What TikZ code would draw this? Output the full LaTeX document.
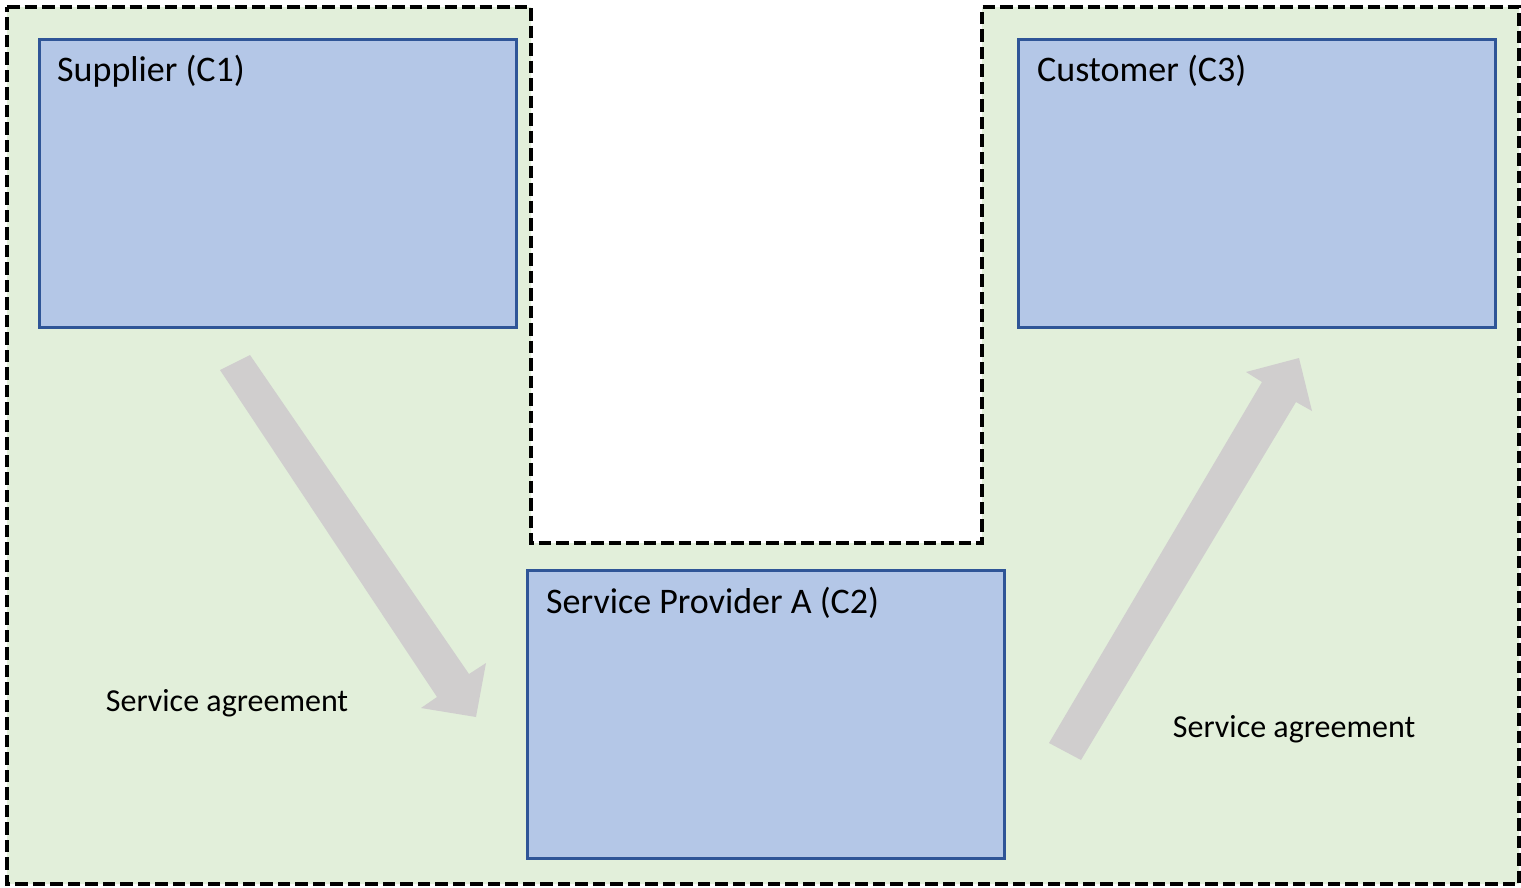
\documentclass[tikz,border=0pt]{standalone}
\usepackage{fontspec}
\setmainfont{Carlito}
\definecolor{zonegreen}{HTML}{E2EFDA}
\definecolor{boxblue}{HTML}{B4C7E7}
\definecolor{boxedge}{HTML}{2F5597}
\definecolor{flowgrey}{HTML}{D0CECE}
\tikzset{
  zone/.style={fill=zonegreen, draw=black, line width=3.5pt, dash pattern=on 12.5pt off 5pt, line join=miter},
  party/.style={draw=boxedge, fill=boxblue, line width=2.5pt, minimum width=477pt, minimum height=288pt, anchor=north west, inner sep=0pt},
  title/.style={anchor=base west, inner sep=0pt, font=\fontsize{36}{43}\selectfont},
  note/.style={inner sep=0pt, font=\fontsize{32}{38}\selectfont},
  flow/.style={fill=flowgrey, draw=none}
}
\begin{document}
\begin{tikzpicture}[x=1pt, y=-1pt]
\useasboundingbox (0,0) rectangle (1521,887);
\fill[white] (0,0) rectangle (1521,887);

% shared zone around the three parties
\draw[zone] (7,7) -- (531,7) -- (531,543) -- (982,543) -- (982,7)
  -- (1519,7) -- (1519,884) -- (7,884) -- cycle;

% parties
\node[party] (c1) at (38,38) {};
\node[party] (c3) at (1017,38) {};
\node[party] (c2) at (526,569) {};
\node[title] (t1) at (57,81) {Supplier (C1)};
\node[title] (t3) at (1037,81) {Customer (C3)};
\node[title] (t2) at (546,613) {Service Provider A (C2)};

% block arrows
\fill[flow] (220,370) -- (250,355) -- (469,674) -- (486,663) -- (476,717)
  -- (421,708) -- (437,697) -- cycle;
\fill[flow] (1049,743) -- (1262,382) -- (1246,372) -- (1299,358)
  -- (1312,411) -- (1296,402) -- (1081,760) -- cycle;

% agreement labels
\node[note] (a1) at (227,703) {Service agreement};
\node[note] (a2) at (1294,729) {Service agreement};
\end{tikzpicture}
\end{document}
